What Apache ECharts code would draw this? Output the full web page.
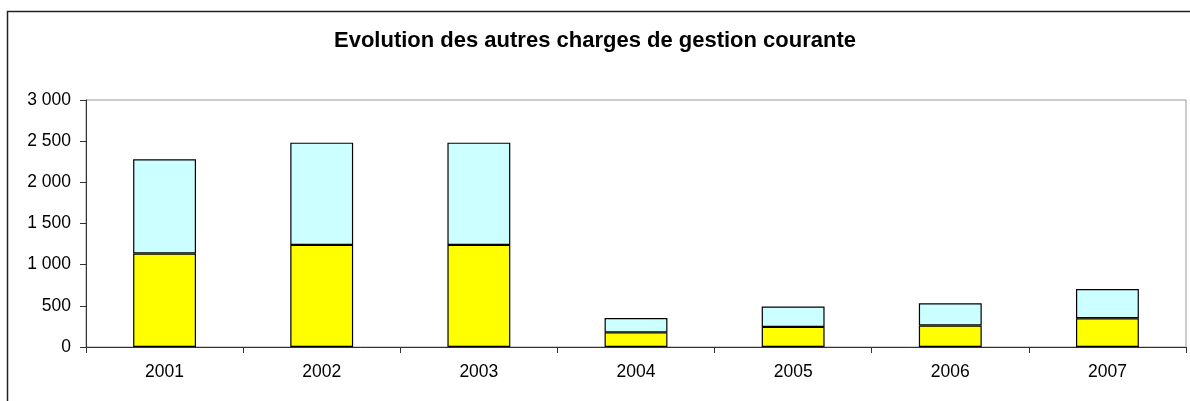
<!DOCTYPE html>
<html>
<head>
<meta charset="utf-8">
<script src="https://cdn.jsdelivr.net/npm/echarts@6/dist/echarts.min.js"></script>
<style>
  html, body { margin: 0; padding: 0; background: #fff; }
  #chart { width: 1190px; height: 401px; }
</style>
</head>
<body>
<div id="chart"></div>
<script>
const years = ["2001", "2002", "2003", "2004", "2005", "2006", "2007"];
const partJaune = [1135, 1240, 1240, 178, 244, 262, 350];
const partCyan = [1145, 1242, 1242, 174, 247, 269, 355];

const chart = echarts.init(document.getElementById("chart"), null, { renderer: "canvas" });

const font = "'Liberation Sans', Arial, sans-serif";

const option = {
  animation: false,
  backgroundColor: "#fff",
  title: {
    text: "Evolution des autres charges de gestion courante",
    left: "center",
    top: 25,
    textStyle: {
      fontFamily: font,
      fontSize: 22,
      fontWeight: "bold",
      color: "#000",
    },
  },
  graphic: [
    {
      type: "rect",
      shape: { x: 7.5, y: 11.5, width: 1200, height: 420 },
      style: { fill: "none", stroke: "#222", lineWidth: 1.5 },
      z: 100,
    },
  ],
  grid: {
    left: 86,
    right: 4,
    top: 100,
    bottom: 54,
    show: true,
    borderColor: "#999",
    borderWidth: 1,
  },
  xAxis: {
    type: "category",
    data: years,
    axisLine: { lineStyle: { color: "#333", width: 1 } },
    axisTick: { show: true, length: 6, lineStyle: { color: "#333" } },
    axisLabel: {
      fontFamily: font,
      fontSize: 17.5,
      color: "#000",
      margin: 16,
    },
  },
  yAxis: {
    type: "value",
    min: 0,
    max: 3000,
    interval: 500,
    axisLine: { show: true, lineStyle: { color: "#333", width: 1 } },
    axisTick: { show: true, length: 6, lineStyle: { color: "#333" } },
    splitLine: { show: false },
    axisLabel: {
      fontFamily: font,
      fontSize: 17.5,
      color: "#000",
      margin: 15,
      formatter: function (v) {
        return String(v).replace(/\B(?=(\d{3})+(?!\d))/g, " ");
      },
    },
  },
  series: [
    {
      name: "Série 1",
      type: "bar",
      stack: "total",
      data: partJaune,
      barCategoryGap: "60%",
      itemStyle: { color: "#FFFF00", borderColor: "#000", borderWidth: 1.2 },
    },
    {
      name: "Série 2",
      type: "bar",
      stack: "total",
      data: partCyan,
      barCategoryGap: "60%",
      itemStyle: { color: "#CCFFFF", borderColor: "#000", borderWidth: 1.2 },
    },
  ],
};

chart.setOption(option);
</script>
</body>
</html>
